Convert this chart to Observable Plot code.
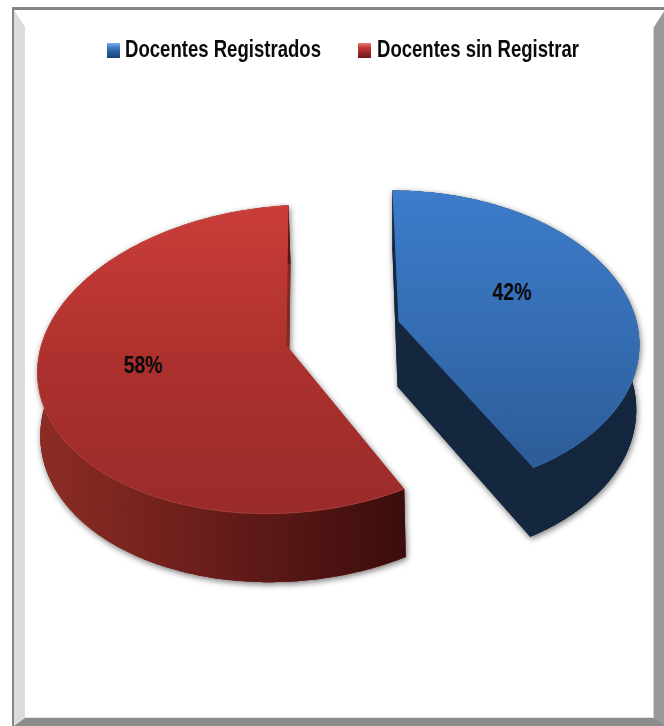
<!DOCTYPE html>
<html lang="es">
<head>
<meta charset="utf-8">
<script src="https://cdn.jsdelivr.net/npm/d3@7"></script>
<script src="https://cdn.jsdelivr.net/npm/@observablehq/plot@0.6"></script>
<style>
  html, body { margin: 0; padding: 0; background: #fff; width: 664px; height: 726px; overflow: hidden; }
  #stage { position: relative; width: 664px; height: 726px; overflow: hidden; }
  #outer { position: absolute; left: 12px; top: 7px; width: 660px; height: 730px; border-left: 2px solid #858585; border-top: 3px solid #858585; }
  #bevel { position: absolute; left: 0; top: 0; width: 629px; height: 691px;
           border-left: 11px solid #dcdcdc; border-top: 17px solid #fff;
           border-right: 11px solid #999; border-bottom: 8px solid #8c8c8c;
           box-shadow: inset 0 -1px 0 #e2e2e2, inset -1px 0 0 #d4d4d4; }
  #chart { position: absolute; left: 0; top: 0; }
  #chart svg { display: block; }
  .leg { position: absolute; top: 33px; font: bold 24px/32px "Liberation Sans", sans-serif; color: #0a0a0a; white-space: nowrap; transform-origin: 0 50%; }
  .sw { position: absolute; top: 43px; width: 13px; height: 15px; }
</style>
</head>
<body>
<div id="stage">
  <div id="outer"><div id="bevel"></div></div>
  <div id="chart"></div>
  <div id="legend"></div>
</div>
<script>
// Data
const categories = ["Docentes Registrados", "Docentes sin Registrar"];
const shares = [42, 58];
const labels = ["42%", "58%"];

// Styles
const bodyColors = ["#14273f", "#84291f"];
const topGradients = ["topBlue", "topRed"];
const wallGradients = ["wallBlue", "wallRed"];
const rimColors = ["#5f97da", "#dc6a62"];
const swatchCss = [
  "linear-gradient(#7fb2ea 0%, #3f7cc6 30%, #2a5c9e 60%, #1d4375 100%)",
  "linear-gradient(#ea7a74 0%, #c43a36 30%, #9c2a28 60%, #6d1b19 100%)"
];
const legendX = [125, 377];
const legendWidth = [196, 202];
const swatchX = [107, 358];

// Perspective pie layout for each slice: top ring and bottom ring
const direction = [1, -1];
const sweepFix = [1, 0.988];
const topRing = [
  {cx: 398, cy: 321, rx: 238, ry: 148, k: 0.13, shear: 6, tilt: 0},
  {cx: 286, cy: 345, rx: 248, ry: 152.7, k: 0.09, shear: -2, tilt: -12}
];
const bottomRing = [
  {cx: 397, cy: 386, rx: 236, ry: 152, k: 0.13, shear: 5, tilt: 0},
  {cx: 288, cy: 408, rx: 247, ry: 157.7, k: 0.09, shear: -2, tilt: -12}
];
const labelRadius = [0.535, 0.58];
const labelShift = [-8, 5];
const labelWidth = 39;

const rad = Math.PI / 180;
function project(ring, deg, r = 1) {
  const u = r * Math.sin(deg * rad), v = -r * Math.cos(deg * rad);
  const s = 1 / (1 - ring.k * v);
  return {x: ring.cx + u * ring.rx * s + ring.shear * v, y: ring.cy + v * ring.ry * s + ring.tilt * u};
}
function arc(ring, end) {
  return d3.range(0, 1.0001, 1 / 240).map((t) => project(ring, end * t));
}

const body = [], walls = [], faces = [], rims = [], texts = [];
shares.forEach((share, i) => {
  const end = direction[i] * share * 3.6 * sweepFix[i];
  const T = topRing[i], B = bottomRing[i];
  const at = arc(T, end), ab = arc(B, end);
  const apexT = project(T, 0, 0), apexB = project(B, 0, 0);
  const startT = at[0], startB = ab[0], endT = at[at.length - 1], endB = ab[ab.length - 1];
  const part = (name, pts) => pts.forEach((p) => body.push({...p, part: i + name, fill: bodyColors[i]}));
  part("floor", [apexB, ...ab]);
  part("start", [apexT, startT, startB, apexB]);
  part("cut", [apexT, endT, endB, apexB]);
  part("band", [...at, ...ab.slice().reverse()]);
  walls.push({i, pts: [...at, ...ab.slice().reverse()]});
  faces.push({i, pts: [apexT, ...at]});
  rims.push({i, pts: at});
  texts.push({...project(T, end / 2 + labelShift[i], labelRadius[i]), label: labels[i]});
});

const gradients = () => d3.create("svg:defs").html(`
  <linearGradient id="topBlue" x1="0" y1="0" x2="0" y2="1">
    <stop offset="0" stop-color="#3c7cca"/><stop offset="0.45" stop-color="#366fb6"/><stop offset="1" stop-color="#2c5c98"/>
  </linearGradient>
  <linearGradient id="topRed" x1="0" y1="0" x2="0" y2="1">
    <stop offset="0" stop-color="#ca3d39"/><stop offset="0.5" stop-color="#ad312e"/><stop offset="1" stop-color="#992b2a"/>
  </linearGradient>
  <linearGradient id="wallBlue" x1="0" y1="0" x2="1" y2="0">
    <stop offset="0" stop-color="#14273f"/><stop offset="1" stop-color="#14263e"/>
  </linearGradient>
  <linearGradient id="wallRed" x1="0" y1="0" x2="1" y2="0">
    <stop offset="0" stop-color="#8c2d25"/><stop offset="0.4" stop-color="#6f1f1c"/><stop offset="1" stop-color="#3a0d0c"/>
  </linearGradient>`).node();

const chart = Plot.plot({
  width: 664, height: 726,
  margin: 0,
  style: {background: "transparent"},
  x: {domain: [0, 664], range: [0, 664], axis: null},
  y: {domain: [0, 726], range: [0, 726], axis: null},
  marks: [
    gradients,
    Plot.line(body, {x: "x", y: "y", z: "part", fill: "fill", stroke: "none",
      imageFilter: "drop-shadow(1px 2px 3px rgba(0,0,0,0.55))"}),
    ...walls.map((w) => Plot.line(w.pts, {x: "x", y: "y", fill: `url(#${wallGradients[w.i]})`, stroke: "none"})),
    ...faces.map((f) => Plot.line(f.pts, {x: "x", y: "y", fill: `url(#${topGradients[f.i]})`, stroke: "none"})),
    ...rims.map((r) => Plot.line(r.pts, {x: "x", y: "y", stroke: rimColors[r.i], strokeWidth: 1, strokeOpacity: 0.35})),
    Plot.text(texts, {x: "x", y: "y", text: "label", fontFamily: "'Liberation Sans',sans-serif",
      fontWeight: "bold", fontSize: 24, fill: "#0a0a0a"})
  ]
});
d3.select(chart).selectAll("text").attr("textLength", labelWidth).attr("lengthAdjust", "spacingAndGlyphs");
document.getElementById("chart").appendChild(chart);

const legend = document.getElementById("legend");
categories.forEach((name, i) => {
  const sw = document.createElement("div");
  sw.className = "sw";
  sw.style.left = swatchX[i] + "px";
  sw.style.background = swatchCss[i];
  legend.appendChild(sw);
  const t = document.createElement("div");
  t.className = "leg";
  t.style.left = legendX[i] + "px";
  t.textContent = name;
  legend.appendChild(t);
  t.style.transform = `scaleX(${legendWidth[i] / t.getBoundingClientRect().width})`;
});
</script>
</body>
</html>
